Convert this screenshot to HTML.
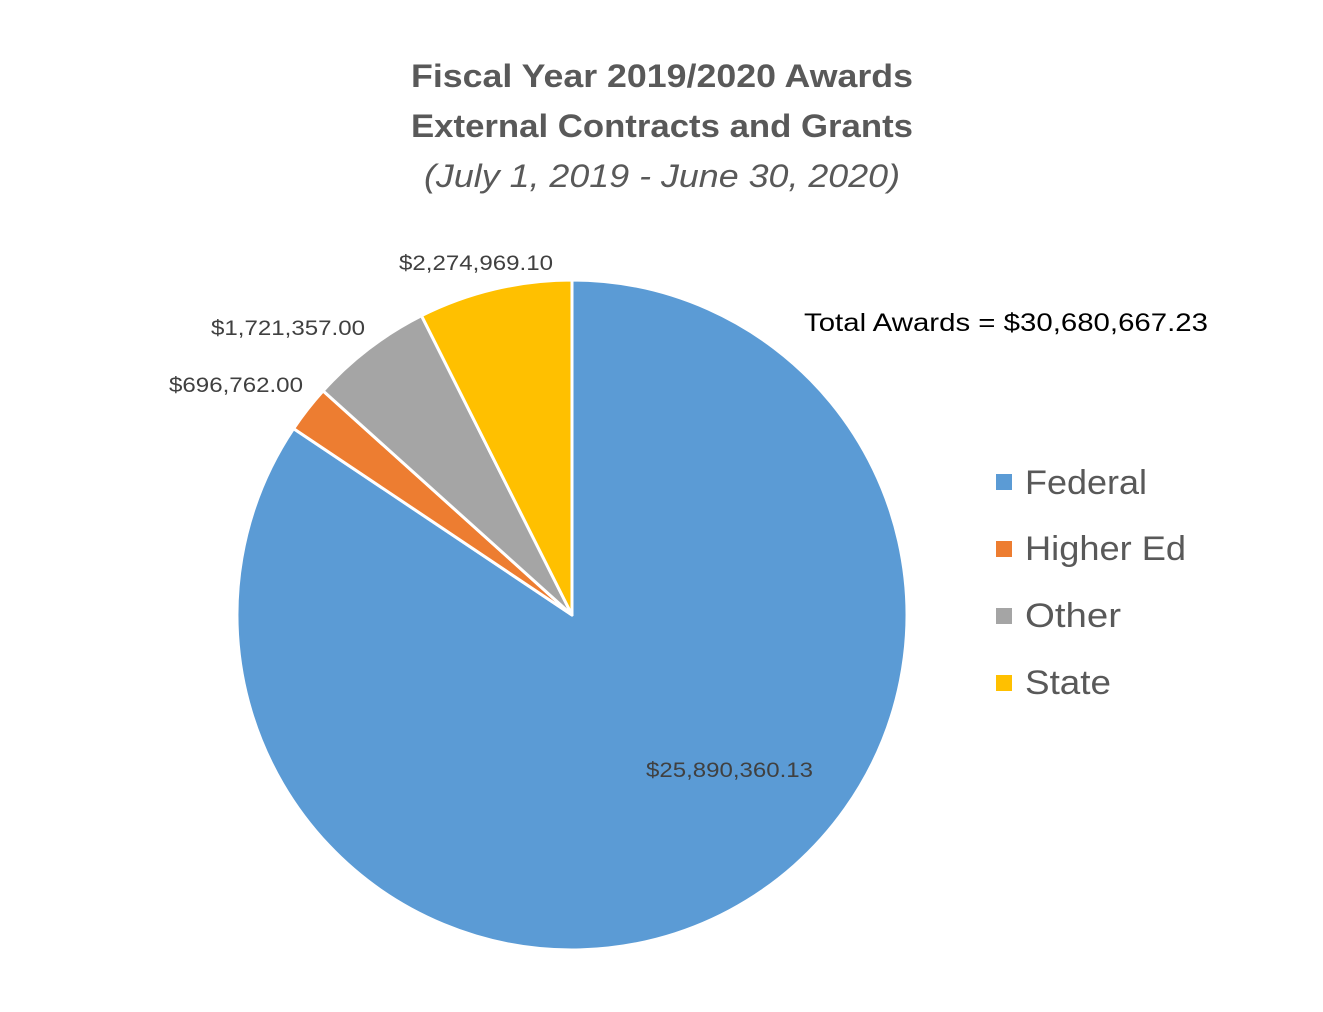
<!DOCTYPE html>
<html><head><style>
body{margin:0;background:#fff;}
svg text{font-family:"Liberation Sans",sans-serif;}
</style></head><body>
<svg width="1323" height="1007" xmlns="http://www.w3.org/2000/svg">
<rect width="1323" height="1007" fill="#fff"/>
<text x="662" y="87" text-anchor="middle" font-size="32" font-weight="bold" fill="#595959" textLength="502" lengthAdjust="spacingAndGlyphs">Fiscal Year 2019/2020 Awards</text>
<text x="662" y="137" text-anchor="middle" font-size="32" font-weight="bold" fill="#595959" textLength="502" lengthAdjust="spacingAndGlyphs">External Contracts and Grants</text>
<text x="662" y="187" text-anchor="middle" font-size="32" font-style="italic" fill="#595959" textLength="476" lengthAdjust="spacingAndGlyphs">(July 1, 2019 - June 30, 2020)</text>
<g stroke="#fff" stroke-width="3" stroke-linejoin="round">
<path d="M572,615 L572,280 A335,335 0 1,1 293.6,428.6 Z" fill="#5b9bd5"/>
<path d="M572,615 L293.6,428.6 A335,335 0 0,1 323.1,390.9 Z" fill="#ed7d31"/>
<path d="M572,615 L323.1,390.9 A335,335 0 0,1 421.5,315.7 Z" fill="#a5a5a5"/>
<path d="M572,615 L421.5,315.7 A335,335 0 0,1 572,280 Z" fill="#ffc000"/>
</g>
<g font-size="21" fill="#404040">
<text x="399" y="270" textLength="154" lengthAdjust="spacingAndGlyphs">$2,274,969.10</text>
<text x="211" y="335" textLength="154" lengthAdjust="spacingAndGlyphs">$1,721,357.00</text>
<text x="169" y="392" textLength="134" lengthAdjust="spacingAndGlyphs">$696,762.00</text>
<text x="646" y="777" textLength="167" lengthAdjust="spacingAndGlyphs">$25,890,360.13</text>
</g>
<text x="804" y="331" font-size="25" fill="#000" textLength="404" lengthAdjust="spacingAndGlyphs">Total Awards = $30,680,667.23</text>
<g font-size="34" fill="#595959">
<rect x="996" y="474" width="16" height="16" fill="#5b9bd5"/>
<text x="1025" y="494" textLength="122" lengthAdjust="spacingAndGlyphs">Federal</text>
<rect x="996" y="541" width="16" height="16" fill="#ed7d31"/>
<text x="1025" y="560" textLength="161" lengthAdjust="spacingAndGlyphs">Higher Ed</text>
<rect x="996" y="608" width="16" height="16" fill="#a5a5a5"/>
<text x="1025" y="627" textLength="96" lengthAdjust="spacingAndGlyphs">Other</text>
<rect x="996" y="675" width="16" height="16" fill="#ffc000"/>
<text x="1025" y="694" textLength="86" lengthAdjust="spacingAndGlyphs">State</text>
</g>
</svg>
</body></html>
